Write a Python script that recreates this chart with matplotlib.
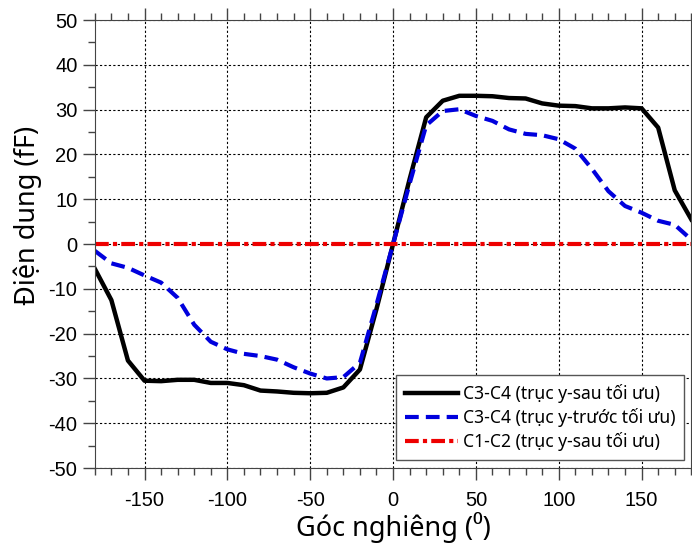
import numpy as np
import matplotlib
matplotlib.use("Agg")
import matplotlib.pyplot as plt
from matplotlib.ticker import MultipleLocator

plt.rcParams["axes.unicode_minus"] = False

# goc nghieng (do)
angle = list(range(-180, 181, 10))

# C3-C4, truc y sau toi uu
c34_sau = [-5.5, -12.5, -26.0, -30.5, -30.6, -30.3, -30.3, -31.0, -31.0, -31.5,
           -32.7, -32.9, -33.2, -33.3, -33.2, -32.0, -28.0, -14.5, 0.0,
           14.5, 28.3, 32.0, 33.1, 33.1, 33.0, 32.6, 32.5, 31.4, 30.9,
           30.8, 30.3, 30.3, 30.5, 30.3, 26.0, 12.0, 5.5]

# C3-C4, truc y truoc toi uu
c34_truoc = [-1.5, -4.3, -5.3, -7.0, -8.6, -12.0, -18.0, -21.8, -23.5, -24.5,
             -25.0, -25.8, -27.5, -28.9, -30.0, -29.7, -26.5, -13.5, 0.0,
             13.5, 26.5, 29.7, 30.1, 28.6, 27.5, 25.6, 24.6, 24.3, 23.4,
             21.3, 16.8, 11.8, 8.5, 7.0, 5.2, 4.3, 1.0]

# C1-C2, truc y sau toi uu
c12_sau = [0.0] * len(angle)

labels = ["C3-C4 (trục y-sau tối ưu)",
          "C3-C4 (trục y-trước tối ưu)",
          "C1-C2 (trục y-sau tối ưu)"]

fig = plt.figure(figsize=(6.92, 5.43), dpi=100)
ax = fig.add_axes([0.137, 0.138, 0.862, 0.825])

ax.plot(angle, c34_sau, color="black", lw=3.2, label=labels[0])
ax.plot(angle, c34_truoc, color="#0000dd", lw=3, linestyle=(0, (3.3, 1.7)), label=labels[1])
ax.plot(angle, c12_sau, color="#ee0000", lw=3, linestyle=(0, (3.3, 1.0, 1.0, 1.0)), label=labels[2])

ax.set_xlim(-180, 180)
ax.set_ylim(-50, 50)
ax.xaxis.set_major_locator(MultipleLocator(50))
ax.xaxis.set_minor_locator(MultipleLocator(10))
ax.yaxis.set_major_locator(MultipleLocator(10))
ax.yaxis.set_minor_locator(MultipleLocator(5))
ax.tick_params(which="major", direction="out", length=8.5, width=1, color="#444444",
               top=True, right=True, labelsize=14.5)
ax.tick_params(axis="x", which="major", pad=8)
ax.tick_params(axis="y", which="major", pad=4)
ax.tick_params(which="minor", direction="out", length=5, width=1, color="#444444",
               top=True, right=True)
for lab in ax.get_xticklabels() + ax.get_yticklabels():
    lab.set_family("Liberation Sans")
for s in ax.spines.values():
    s.set_color("#444444")

ax.grid(True, which="major", color="black", linestyle=(0, (2, 2)), lw=0.8)

lfont = ["Noto Sans", "DejaVu Sans"]
ax.set_xlabel("Góc nghiêng (⁰)", fontsize=19.5, family=lfont, labelpad=1.5)
ax.set_ylabel("Điện dung (fF)", fontsize=19.5, family=lfont)
ax.yaxis.set_label_coords(-0.089, 0.565)

leg = ax.legend(loc="lower right", bbox_to_anchor=(0.988, 0.018), fancybox=False,
                framealpha=1, edgecolor="#555555", handlelength=3.0,
                prop={"family": lfont, "size": 12.6}, borderpad=0.5,
                labelspacing=0.3, handletextpad=0.3, borderaxespad=0)
leg.get_frame().set_linewidth(1.0)

fig.savefig("out.png", dpi=100)
